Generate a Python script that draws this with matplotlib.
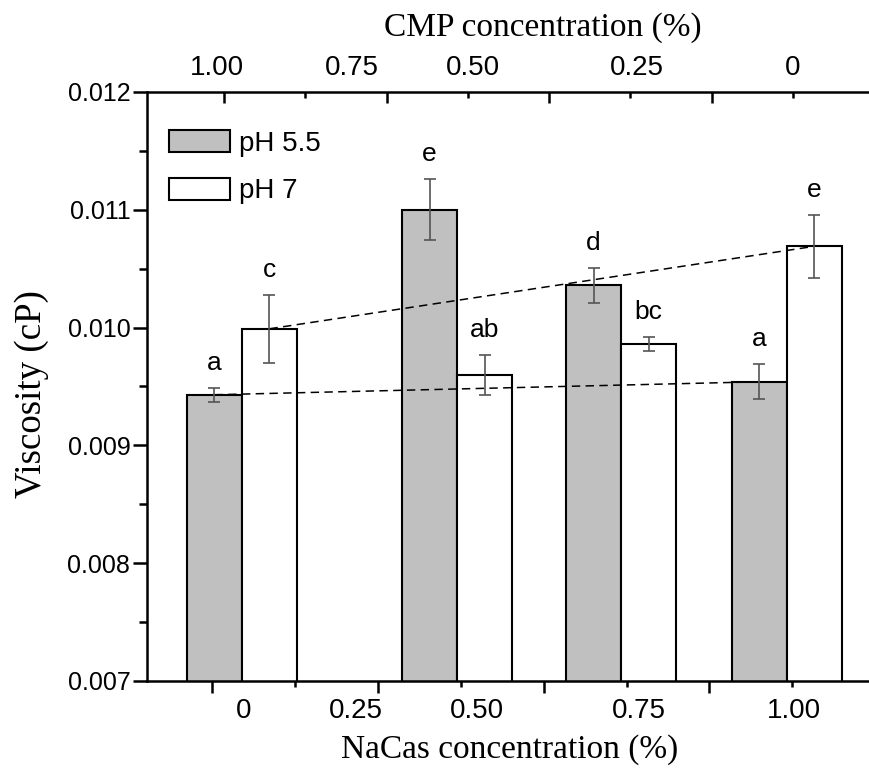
import matplotlib
matplotlib.use("Agg")
from matplotlib import pyplot
from matplotlib.patches import Patch
from matplotlib.ticker import MultipleLocator
import matplotlib.transforms as mtransforms

# data
nacas_labels = ["0", "0.25", "0.50", "0.75", "1.00"]
cmp_labels = ["1.00", "0.75", "0.50", "0.25", "0"]
ph55 = [0.00943, 0.01100, 0.01036, 0.00954]
ph55_err = [0.00006, 0.00026, 0.00015, 0.00015]
ph7 = [0.00999, 0.00960, 0.00986, 0.01069]
ph7_err = [0.00029, 0.00017, 0.00006, 0.00027]
letters55 = ["a", "e", "d", "a"]
letters7 = ["c", "ab", "bc", "e"]

SANS = "Liberation Sans"
SERIF = "Liberation Serif"
GREY = "#c0c0c0"
ERR = "#555555"

# layout (in bottom-axis units, one major tick = 1)
group_x = [0.179, 1.477, 2.467, 3.467]
bar_w = 0.332
nacas_label_x = [0.187, 0.867, 1.596, 2.577, 3.507]
cmp_label_x = [-0.045, 0.785, 1.533, 2.542, 3.497]

figure = pyplot.figure(figsize=(8.7, 7.75), dpi=100)
axis = figure.add_axes([147 / 870, 1 - 681 / 775, 723 / 870, 589 / 775])

x55 = [g - bar_w / 2 for g in group_x]
x7 = [g + bar_w / 2 for g in group_x]
axis.bar(x55, ph55, width=bar_w, color=GREY, edgecolor="black", linewidth=1.5, zorder=2, label="pH 5.5")
axis.bar(x7, ph7, width=bar_w, color="white", edgecolor="black", linewidth=1.5, zorder=2, label="pH 7")
axis.errorbar(x55, ph55, yerr=ph55_err, fmt="none", ecolor=ERR, elinewidth=1.2, capsize=4, capthick=1.2, zorder=4)
axis.errorbar(x7, ph7, yerr=ph7_err, fmt="none", ecolor=ERR, elinewidth=1.2, capsize=4, capthick=1.2, zorder=4)

# dashed trend lines between first and last group
for xs, ys in ((x55, ph55), (x7, ph7)):
    line, = axis.plot([xs[0], xs[-1]], [ys[0], ys[-1]], color="black", linewidth=1.1, zorder=3)
    line.set_dashes((5.5, 3.5))

# significance letters
for xs, ys, errs, letters in ((x55, ph55, ph55_err, letters55), (x7, ph7, ph7_err, letters7)):
    for x, y, e, t in zip(xs, ys, errs, letters):
        axis.annotate(t, (x, y + e), xytext=(0, 18), textcoords="offset points",
                      ha="center", va="center", fontsize=19, family=SANS)

axis.set_ylim(0.007, 0.012)
axis.set_xlim(-0.394, 3.969)
axis.yaxis.set_major_locator(MultipleLocator(0.001))
axis.yaxis.set_minor_locator(MultipleLocator(0.0005))
axis.set_yticklabels([f"{v:.3f}" for v in axis.get_yticks()], fontsize=18, family=SANS)
axis.set_xticks([0, 1, 2, 3])
axis.set_xticks([0.5, 1.5, 2.5, 3.5], minor=True)
axis.tick_params(axis="x", which="both", labelbottom=False, width=1.8, direction="out")
axis.tick_params(axis="x", which="major", length=8.6)
axis.tick_params(axis="x", which="minor", length=4.3)
axis.tick_params(axis="y", which="major", length=10, width=1.8, pad=2)
axis.tick_params(axis="y", which="minor", length=5.8, width=1.8)
axis.spines["right"].set_visible(False)
axis.spines["top"].set_visible(False)
for s in ("left", "bottom"):
    axis.spines[s].set_linewidth(1.8)

bottom_tf = mtransforms.blended_transform_factory(axis.transData, axis.transAxes)
for x, t in zip(nacas_label_x, nacas_labels):
    axis.text(x, -0.051, t, transform=bottom_tf, ha="center", va="center", fontsize=20, family=SANS)

axis.set_xlabel("NaCas concentration (%)", fontsize=24, family=SERIF, va="center")
axis.xaxis.set_label_coords(0.502, -0.117)
axis.set_ylabel("Viscosity (cP)", fontsize=26.6, family=SERIF, va="center")
axis.yaxis.set_label_coords(-0.159, 0.487)

# top CMP axis
top = axis.twiny()
top.set_xlim(-0.4736, 3.973)
top.set_xticks([0, 1, 2, 3])
top.set_xticks([0.5, 1.5, 2.5, 3.5], minor=True)
top.tick_params(axis="x", which="both", labeltop=False, width=1.8, direction="in")
top.tick_params(axis="x", which="major", length=8)
top.tick_params(axis="x", which="minor", length=4.3)
for s in ("right", "bottom", "left"):
    top.spines[s].set_visible(False)
top.spines["top"].set_linewidth(1.8)
top_tf = mtransforms.blended_transform_factory(top.transData, top.transAxes)
for x, t in zip(cmp_label_x, cmp_labels):
    top.text(x, 1.041, t, transform=top_tf, ha="center", va="center", fontsize=20, family=SANS)
top.set_xlabel("CMP concentration (%)", fontsize=24, family=SERIF, va="center")
top.xaxis.set_label_coords(0.547, 1.109)

handles = [Patch(facecolor=GREY, edgecolor="black", linewidth=1.5),
           Patch(facecolor="white", edgecolor="black", linewidth=1.5)]
axis.legend(handles, ["pH 5.5", "pH 7"], loc="upper left", bbox_to_anchor=(0.03, 0.935),
            frameon=False, borderpad=0, borderaxespad=0, handlelength=2.2, handleheight=0.83,
            handletextpad=0.33, labelspacing=0.76, prop={"family": SANS, "size": 20})

figure.set_facecolor("white")
figure.savefig("out.png", dpi=100)
